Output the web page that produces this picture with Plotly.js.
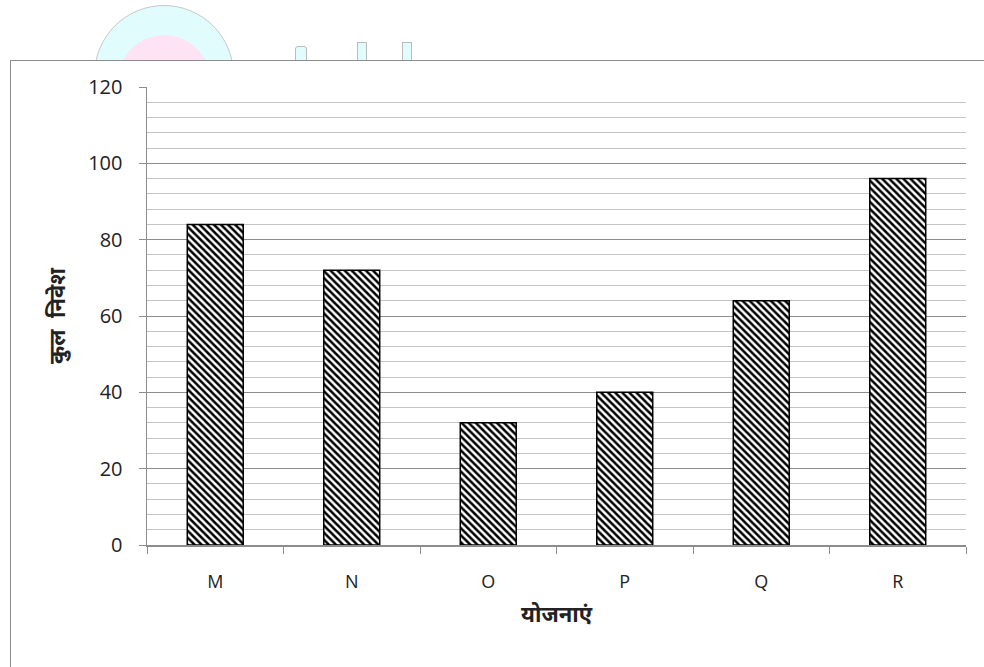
<!DOCTYPE html>
<html>
<head>
<meta charset="utf-8">
<script src="https://cdn.plot.ly/plotly-3.0.1.min.js"></script>
<style>
html,body{margin:0;padding:0;background:#fff;width:984px;height:667px;overflow:hidden;}
#frame{position:absolute;left:10px;top:60px;width:1000px;height:700px;border:1.5px solid #8c8c8c;box-sizing:border-box;}
#wm{position:absolute;left:0;top:0;width:984px;height:60px;overflow:hidden;}
.c{position:absolute;border-radius:50%;}
#chart{position:absolute;left:0;top:0;width:984px;height:667px;}
</style>
</head>
<body>
<div id="wm">
  <div class="c" style="left:94px;top:5px;width:138px;height:138px;background:#e0fcfc;border:1px solid #c8c8c8;"></div>
  <div class="c" style="left:118px;top:35px;width:92px;height:92px;background:#fde3f3;"></div>
  <div style="position:absolute;left:295px;top:46px;width:10px;height:20px;background:#e0fcfc;border:1px solid #bbb;border-radius:3px 3px 0 0;"></div>
  <div style="position:absolute;left:357px;top:42px;width:8px;height:24px;background:#e0fcfc;border:1px solid #bbb;"></div>
  <div style="position:absolute;left:402px;top:42px;width:8px;height:24px;background:#e0fcfc;border:1px solid #bbb;"></div>
</div>
<div id="frame"></div>
<div id="chart"></div>
<script>
const categories = ["M", "N", "O", "P", "Q", "R"];
const investment = [84, 72, 32, 40, 64, 96];
const xTitle = "योजनाएं";
const yTitle = "कुल\u00a0\u00a0निवेश";

const trace = {
  type: "bar",
  x: categories,
  y: investment,
  marker: {
    color: "#ffffff",
    line: {color: "#000000", width: 1.5},
    pattern: {shape: "\\", fgcolor: "#000000", bgcolor: "#ffffff", size: 5, solidity: 0.5}
  },
  hoverinfo: "none"
};

const layout = {
  width: 984,
  height: 667,
  paper_bgcolor: "rgba(0,0,0,0)",
  plot_bgcolor: "rgba(0,0,0,0)",
  margin: {l: 147, r: 18, t: 87, b: 122},
  bargap: 0.59,
  showlegend: false,
  font: {family: "Open Sans, Noto Sans, sans-serif", color: "#222", size: 14},
  xaxis: {
    type: "category",
    showline: true,
    linecolor: "#8c8c8c",
    linewidth: 1.5,
    ticks: "outside",
    tickson: "boundaries",
    ticklen: 7,
    tickcolor: "#8c8c8c",
    ticklabelstandoff: 20,
    tickfont: {size: 18, color: "#222"},
    showgrid: false,
    title: {text: xTitle, font: {size: 22, color: "#222", family: "Noto Sans, sans-serif", weight: "bold"}, standoff: 14}
  },
  yaxis: {
    range: [0, 120],
    dtick: 20,
    showline: true,
    linecolor: "#8c8c8c",
    linewidth: 1.5,
    ticks: "outside",
    ticklen: 7,
    tickcolor: "#8c8c8c",
    ticklabelstandoff: 12,
    tickfont: {size: 20, color: "#222"},
    showgrid: true,
    gridcolor: "#8c8c8c",
    gridwidth: 1,
    zeroline: false,
    minor: {dtick: 4, showgrid: true, gridcolor: "#c4c4c4", gridwidth: 1, ticks: ""},
    title: {text: yTitle, font: {size: 22, color: "#222", family: "Noto Sans, sans-serif", weight: "bold"}, standoff: 16}
  }
};

Plotly.newPlot("chart", [trace], layout, {displayModeBar: false, staticPlot: true});
</script>
</body>
</html>
